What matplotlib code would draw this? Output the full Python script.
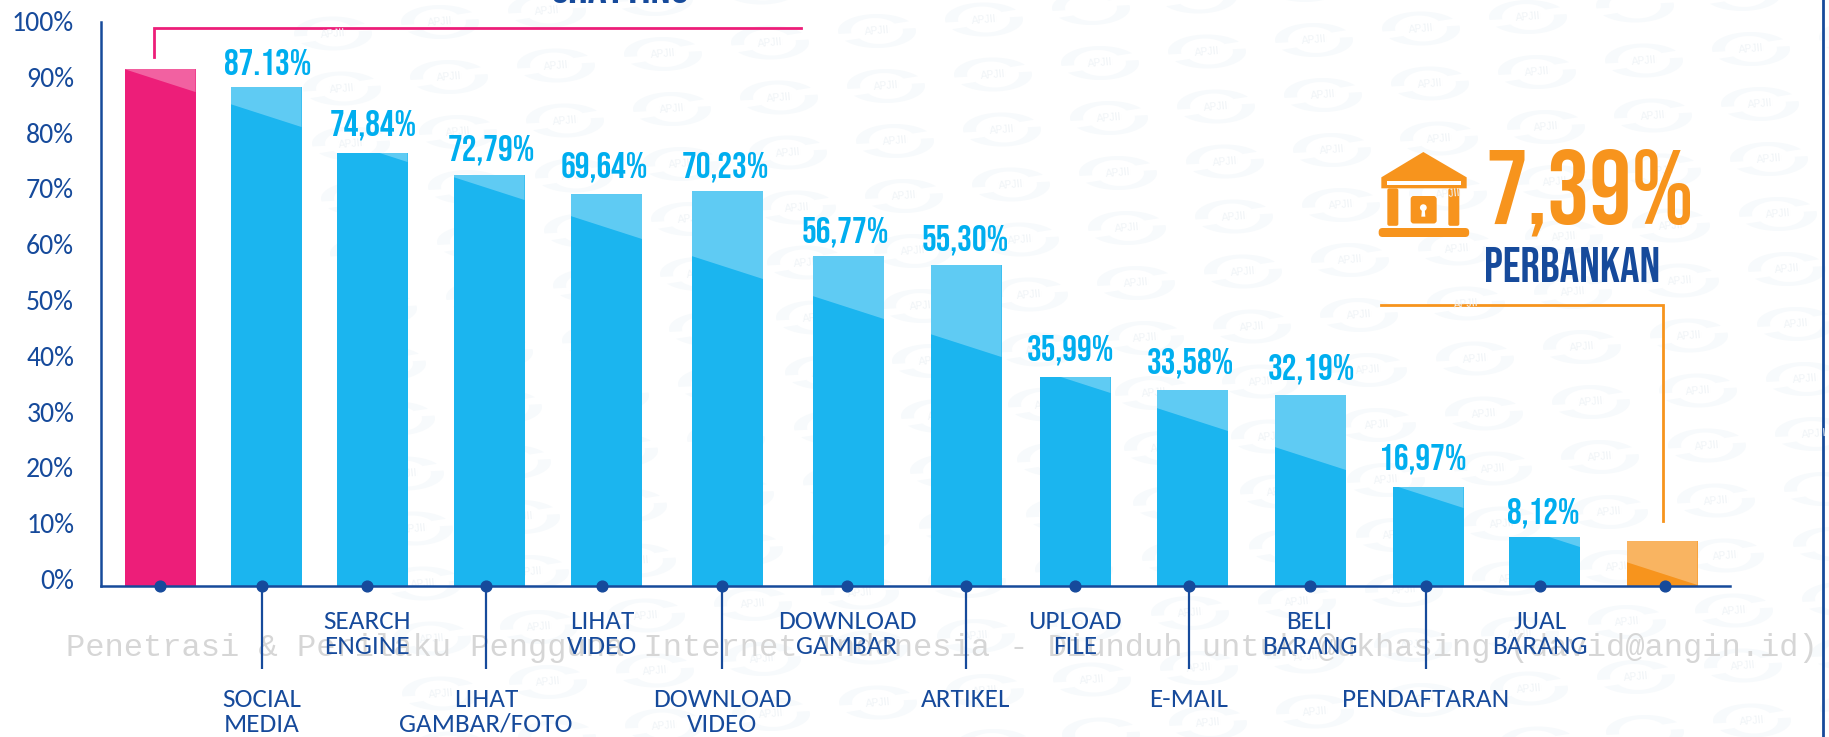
# penetrasi internet bar chart, bank share called out on the right
import numpy as np
import matplotlib
matplotlib.use('Agg')
import matplotlib.pyplot as plt
from matplotlib.patches import Polygon, FancyBboxPatch, Circle, Rectangle
from matplotlib.transforms import ScaledTranslation

# bar heights as read against the y axis (they do not follow the printed labels exactly)
heights = [92.65, 89.43, 77.6, 73.66, 70.25, 70.79, 59.14, 57.53, 37.46, 35.13, 34.23, 17.74, 8.78, 8.06]
# height where the light diagonal meets the right edge of each bar
shade_right = [88.53, 82.26, 75.99, 69.18, 62.19, 55.02, 47.85, 41.04, 34.59, 27.78, 20.79, 13.98, 6.99, 0.18]
value_labels = ['', '87.13%', '74,84%', '72,79%', '69,64%', '70,23%', '56,77%', '55,30%',
                '35,99%', '33,58%', '32,19%', '16,97%', '8,12%', '']
categories = ['', 'SOCIAL\nMEDIA', 'SEARCH\nENGINE', 'LIHAT\nGAMBAR/FOTO', 'LIHAT\nVIDEO',
              'DOWNLOAD\nVIDEO', 'DOWNLOAD\nGAMBAR', 'ARTIKEL', 'UPLOAD\nFILE', 'E-MAIL',
              'BELI\nBARANG', 'PENDAFTARAN', 'JUAL\nBARANG', '']
ytick_vals = [0, 10, 20, 30, 40, 50, 60, 70, 80, 90, 100]
ytick_labels = ['0%', '10%', '20%', '30%', '40%', '50%', '60%', '70%', '80%', '90%', '100%']

# x layout (the bars are not evenly spaced in the original)
bar_x = [160, 266, 372, 489, 606.5, 727.5, 848.5, 966, 1075, 1192.5, 1310.5, 1428, 1544.5, 1662]
dot_x = [160, 262, 367, 486, 602, 722, 847, 966, 1075, 1188.5, 1309.5, 1426, 1540, 1665]
value_x = [160, 267.5, 373, 491, 604.5, 725, 845, 965, 1070.5, 1190, 1311, 1423, 1543, 1662]
value_gap = [0, 25, 28, 25, 27, 24, 24, 25, 27, 27, 26, 28, 24, 0]

navy = '#164a9b'
sky = '#1bb5ef'
label_blue = '#00aeef'
pink = '#ed1e79'
orange = '#f7941d'
bebas = ['Bebas Neue', 'Liberation Sans', 'DejaVu Sans']
calibri = ['Carlito', 'Lato', 'DejaVu Sans']

W, H = 1829, 737
fig = plt.figure(figsize=(W / 100, H / 100), dpi=100)

# background axes in pixel coordinates: watermark logos, brackets, icon
bg = fig.add_axes([0, 0, 1, 1], zorder=0)
bg.set_xlim(0, W)
bg.set_ylim(H, 0)
bg.axis('off')

t = np.radians(np.linspace(35, 190, 30))
crescent = np.column_stack([np.r_[39 * np.cos(t), 24 * np.cos(t[::-1]) - 2],
                            np.r_[-17 * np.sin(t), -13 * np.sin(t[::-1])]])
for i in range(-3, 20):
    for j in range(-2, 16):
        cx = 1314 + (i - 6) * 107 + j * 9
        cy = 40 + (i - 6) * -11.5 + j * 55
        if cx < -50 or cx > W + 50 or cy < -30 or cy > H + 30:
            continue
        bg.add_patch(Polygon(crescent + [cx, cy], fc='#f7fafc', ec='none'))
        bg.add_patch(Polygon(-crescent + [cx, cy], fc='#f7fafc', ec='none'))
        if 10 < cx < W - 10 and 8 < cy < H - 8:
            bg.text(cx, cy, 'APJII', fontsize=7.5, color='#f0f4f7', ha='center', va='center',
                    rotation=5, family='Liberation Sans')

bg.text(66, 648, 'Penetrasi & Perilaku Pengguna Internet Indonesia - Diunduh untuk @ukhasing (david@angin.id)',
        family='Liberation Mono', fontsize=23.1, color='#d6d6d6', ha='left', va='center')

# brackets
bg.plot([154, 154, 801], [57, 27.5, 27.5], color=pink, lw=2, solid_joinstyle='miter')
bg.plot([1381, 1663, 1663], [305, 305, 521], color=orange, lw=2, solid_joinstyle='miter')
bg.plot([1823, 1823], [0, H], color=navy, lw=2)

# text cut off by the top of the picture
bg.text(620, 3, 'CHATTING', family=bebas, fontsize=34, color=navy, ha='center', va='baseline')

# bank icon
def px(zx, zy):
    return 1370 + zx / 3, 140 + zy / 3

bg.add_patch(Polygon([px(160, 36), px(290, 112), px(290, 145), px(34, 145), px(34, 112)], fc=orange, ec='none'))
x0, y0 = px(52, 124)
bg.add_patch(Rectangle((x0, y0), 220 / 3, 11 / 3, fc='white', ec='none'))
for left in (52, 235):
    x0, y0 = px(left, 145)
    bg.add_patch(FancyBboxPatch((x0, y0), 11, 37.5, boxstyle='round,pad=0,rounding_size=2', fc=orange, ec='none'))
x0, y0 = px(122, 168)
bg.add_patch(FancyBboxPatch((x0, y0), 26, 27.5, boxstyle='round,pad=0,rounding_size=3', fc=orange, ec='none'))
bg.add_patch(Circle(px(160, 203), 3.4, fc='white', ec='none'))
bg.add_patch(Polygon([px(156, 205), px(164, 205), px(166, 230), px(154, 230)], fc='white', ec='none'))
x0, y0 = px(26, 264)
bg.add_patch(FancyBboxPatch((x0, y0), 90.5, 9, boxstyle='round,pad=0,rounding_size=4', fc=orange, ec='none'))

bg.text(1590, 223, '7,39%', family=bebas, fontsize=76, color=orange, ha='center', va='baseline')
bg.text(1572, 282, 'PERBANKAN', family=bebas, fontsize=35, color=navy, ha='center', va='baseline')

# main chart axes, x runs in picture pixels so the uneven spacing holds
ax = fig.add_axes([100.5 / W, 1 - 586 / H, (1730 - 100.5) / W, (586 - 22) / H], zorder=1)
ax.patch.set_alpha(0)
ax.set_xlim(100.5, 1730)
ax.set_ylim(0, 101.08)

colors = [pink] + [sky] * 12 + [orange]
bars = ax.bar(bar_x, heights, width=71, color=colors, zorder=1)

# lighter corner above the diagonal of every bar
drop = 4.1
for b, xc, top, sr in zip(bars, bar_x, heights, shade_right):
    poly = ax.fill([xc - 35.5, xc + 35.5, xc + 35.5, xc - 35.5], [top, top, sr, sr + drop],
                   color='white', alpha=0.3, lw=0, zorder=1.5)[0]
    poly.set_clip_path(b)

# value labels
for xv, top, lab, gap in zip(value_x, heights, value_labels, value_gap):
    if lab:
        ax.annotate(lab, xy=(xv, top), xytext=(0, gap), textcoords='offset pixels', family=bebas,
                    fontsize=26.5, color=label_blue, ha='center', va='center')

# dots on the axis, every second one has a leader down to the lower label row
ax.scatter(dot_x, [0] * len(dot_x), s=60, color=navy, clip_on=False, zorder=5)
ax.vlines(dot_x[1::2][:6], -14.9, 0, color=navy, lw=1.6, clip_on=False, zorder=4)

for i, (xd, cat) in enumerate(zip(dot_x, categories)):
    off = -102 if i % 2 == 1 else -24
    if cat:
        ax.annotate(cat, xy=(xd, 0), xytext=(0, off), textcoords='offset pixels', family=calibri,
                    fontsize=19.5, color=navy, ha='center', va='top', linespacing=1.08, multialignment='center')

for s in ('top', 'right'):
    ax.spines[s].set_visible(False)
for s in ('left', 'bottom'):
    ax.spines[s].set_color(navy)
    ax.spines[s].set_linewidth(1.8)
ax.set_xticks([])
ax.set_yticks(ytick_vals)
ax.set_yticklabels(ytick_labels, family=calibri, fontsize=20, color=navy)
ax.tick_params(axis='y', length=0, pad=19)
# labels sit a little above their real value in the original
shift = ScaledTranslation(0, 7 / 100, fig.dpi_scale_trans)
for lab in ax.get_yticklabels():
    lab.set_transform(lab.get_transform() + shift)

plt.savefig('out.png', dpi=100)
